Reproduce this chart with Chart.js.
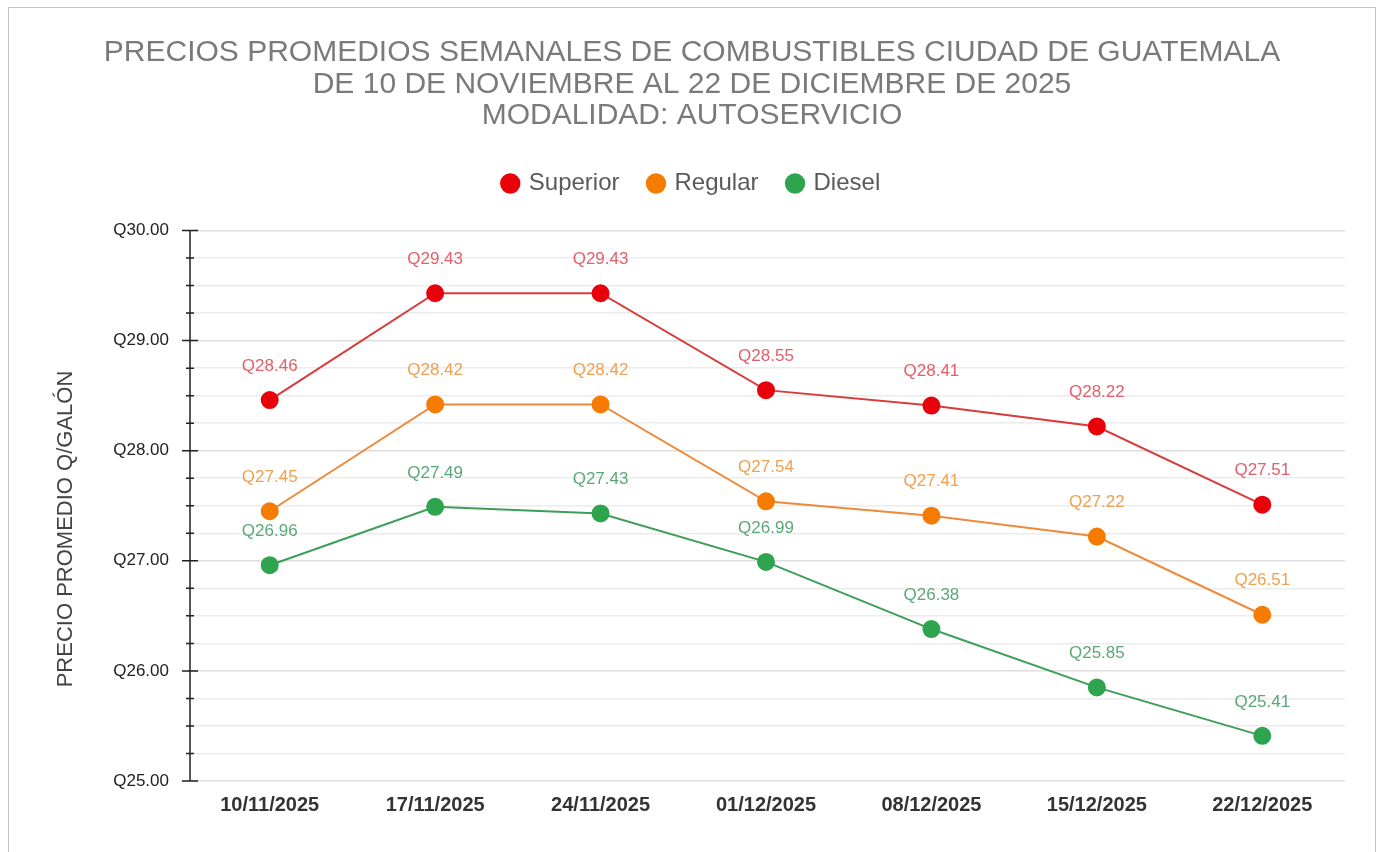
<!DOCTYPE html>
<html>
<head>
<meta charset="utf-8">
<script src="https://cdn.jsdelivr.net/npm/chart.js@4"></script>
<style>
  body { margin: 0; background: #fff; }
  #box { position: absolute; left: 8px; top: 7px; width: 1366px; height: 900px; border: 1px solid #c4c4c4; }
  canvas { display: block; }
</style>
</head>
<body>
<div id="box"><canvas id="lineChart" width="1366" height="845"></canvas></div>
<script>
// datos
const semanas = ['10/11/2025', '17/11/2025', '24/11/2025', '01/12/2025', '08/12/2025', '15/12/2025', '22/12/2025'];
const superior = [28.46, 29.43, 29.43, 28.55, 28.41, 28.22, 27.51];
const regular = [27.45, 28.42, 28.42, 27.54, 27.41, 27.22, 26.51];
const diesel = [26.96, 27.49, 27.43, 26.99, 26.38, 25.85, 25.41];
const tituloLineas = [
    'PRECIOS PROMEDIOS SEMANALES DE COMBUSTIBLES CIUDAD DE GUATEMALA',
    'DE 10 DE NOVIEMBRE AL 22 DE DICIEMBRE DE 2025',
    'MODALIDAD: AUTOSERVICIO'
];
const tituloEje = 'PRECIO PROMEDIO Q/GALÓN';

const fuente = '"Liberation Sans", Arial, sans-serif';

// espacio extra debajo de la leyenda
const legendMargin = {
    id: 'legendMargin',
    beforeInit(chart) {
        const fitValue = chart.legend.fit;
        chart.legend.fit = function fit() {
            fitValue.bind(chart.legend)();
            this.height += 25;
        };
    }
};

// etiquetas encima de cada punto
const etiquetas = {
    id: 'etiquetas',
    afterDatasetsDraw(chart) {
        const ctx = chart.ctx;
        ctx.save();
        ctx.font = '17px ' + fuente;
        ctx.textAlign = 'center';
        ctx.textBaseline = 'middle';
        chart.data.datasets.forEach((ds, i) => {
            const meta = chart.getDatasetMeta(i);
            meta.data.forEach((pt, j) => {
                ctx.fillStyle = ds.labelColor;
                ctx.fillText('Q' + ds.data[j].toFixed(2), pt.x, pt.y - 34);
            });
        });
        ctx.restore();
    }
};

// eje Y con marcas y titulo
const ejeY = {
    id: 'ejeY',
    afterDraw(chart) {
        const ctx = chart.ctx;
        const y = chart.scales.y;
        const x0 = chart.chartArea.left + 3;
        ctx.save();
        ctx.strokeStyle = '#222';
        ctx.lineWidth = 1.5;
        ctx.beginPath();
        ctx.moveTo(x0, y.top);
        ctx.lineTo(x0, y.bottom);
        y.ticks.forEach(t => {
            const py = y.getPixelForValue(t.value);
            const major = Math.abs(t.value - Math.round(t.value)) < 1e-6;
            const w = major ? 8 : 4;
            ctx.moveTo(x0 - w, py);
            ctx.lineTo(x0 + w, py);
        });
        ctx.stroke();
        ctx.fillStyle = '#444';
        ctx.font = '22px ' + fuente;
        ctx.textAlign = 'center';
        ctx.textBaseline = 'middle';
        ctx.translate(57, 521);
        ctx.rotate(-Math.PI / 2);
        ctx.fillText(tituloEje, 0, 0);
        ctx.restore();
    }
};

const lineChartContext = document.getElementById('lineChart').getContext('2d');
const lineChart = new Chart(lineChartContext, {
    type: 'line',
    data: {
        labels: semanas,
        datasets: [{
            label: 'Superior',
            data: superior,
            borderColor: '#d93b3b',
            backgroundColor: '#e8000b',
            pointBackgroundColor: '#e8000b',
            pointBorderColor: '#e8000b',
            labelColor: '#e2606a',
            borderWidth: 2,
            pointRadius: 8
        }, {
            label: 'Regular',
            data: regular,
            borderColor: '#ee8a3a',
            backgroundColor: '#f57c00',
            pointBackgroundColor: '#f57c00',
            pointBorderColor: '#f57c00',
            labelColor: '#f0a050',
            borderWidth: 2,
            pointRadius: 8
        }, {
            label: 'Diesel',
            data: diesel,
            borderColor: '#3d9e5a',
            backgroundColor: '#2ea44f',
            pointBackgroundColor: '#2ea44f',
            pointBorderColor: '#2ea44f',
            labelColor: '#5aa878',
            borderWidth: 2,
            pointRadius: 8
        }]
    },
    options: {
        responsive: false,
        animation: false,
        layout: { padding: { left: 30, right: 30, top: 0, bottom: 32 } },
        plugins: {
            title: {
                display: true,
                text: tituloLineas,
                color: '#7a7a7a',
                font: { family: fuente, size: 30, weight: 'normal', lineHeight: 1.05 },
                padding: { top: 29, bottom: 10 }
            },
            legend: {
                labels: {
                    usePointStyle: true,
                    pointStyle: 'circle',
                    boxWidth: 13,
                    boxHeight: 13,
                    padding: 30,
                    color: '#5a5a5a',
                    font: { family: fuente, size: 24 }
                }
            },
            tooltip: { enabled: false }
        },
        scales: {
            x: {
                offset: true,
                grid: { display: false },
                border: { display: false },
                ticks: {
                    color: '#333',
                    padding: 4,
                    font: { family: fuente, size: 20, weight: 'bold' }
                }
            },
            y: {
                min: 25,
                max: 30,
                afterFit(scale) { scale.width = 148; },
                border: { display: false },
                grid: {
                    color: (c) => Math.abs(c.tick.value - Math.round(c.tick.value)) < 1e-6 ? '#dedede' : '#ececec',
                    lineWidth: 1.5,
                    drawTicks: false
                },
                ticks: {
                    stepSize: 0.25,
                    padding: 18,
                    color: '#222',
                    font: { family: fuente, size: 17 },
                    callback: (v) => Math.abs(v - Math.round(v)) < 1e-6 ? 'Q' + v.toFixed(2) : ''
                }
            }
        }
    },
    plugins: [legendMargin, etiquetas, ejeY]
});
</script>
</body>
</html>
